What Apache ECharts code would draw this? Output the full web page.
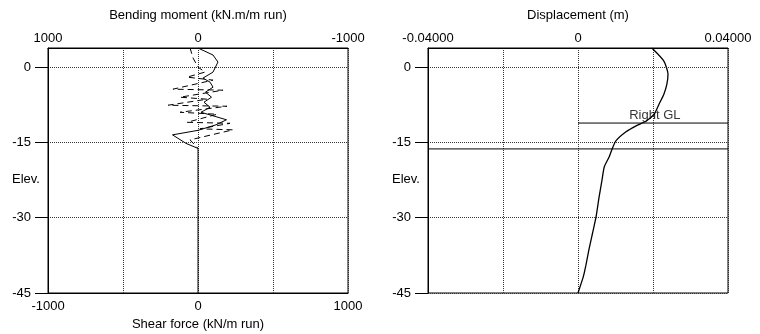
<!DOCTYPE html>
<html><head><meta charset="utf-8">
<script src="https://cdn.jsdelivr.net/npm/echarts@6/dist/echarts.min.js"></script>
<style>html,body{margin:0;padding:0;background:#fff}#c{width:760px;height:334px}</style>
</head><body><div id="c"></div>
<script>
// Elevation ticks
const elevTicks = [0, -15, -30, -45];
// Bending moment (kN.m/m run) vs elevation (solid)
const bmElev = [3.8, 2.4, 1.0, -1.0, -2.2, -3.0, -4.0, -5.0, -6.0, -7.0, -8.0, -9.0, -10.5, -11.5, -12.6, -13.5, -15.2, -16.2, -45];
const bmVal  = [0, -100, -133, -100, -33, -80, -100, -50, -90, -40, -80, -20, -190, -120, 0, 170, 80, 0, 0];
// Shear force (kN/m run) vs elevation (dashed)
const sfElev = [3.8, 1.8, 0, -1.0, -2.0, -2.6, -4.4, -4.6, -6.0, -6.4, -7.6, -7.8, -9.0, -9.4, -11.0, -11.2, -12.3, -12.5, -14.5, -16.2];
const sfVal  = [-53, -33, 0, 47, -73, 100, -167, 167, -120, 60, -200, 193, -120, 127, -73, 213, 13, 233, -53, 0];
// Displacement (m) vs elevation
const dispElev = [3.8, 1.2, -1.4, -3.4, -5.4, -7.4, -9.4, -10.8, -11.7, -12.9, -14.7, -16.3, -17.9, -19.9, -22.5, -26.0, -29.9, -33.0, -36.4, -39.5, -41.8, -45];
const dispVal  = [0.0197, 0.0229, 0.0240, 0.0237, 0.0229, 0.0216, 0.0203, 0.0181, 0.0155, 0.0128, 0.0101, 0.0091, 0.0083, 0.0070, 0.0064, 0.0056, 0.0048, 0.0039, 0.0029, 0.0021, 0.0014, 0];
// Ground level lines
const rightGL = -11.15;
const rightGLLabelX = 0.0205;
const toeLevel = -16.3;

const FONT = 'Liberation Sans';
const fs = 13;
const chart = echarts.init(document.getElementById('c'), null, {renderer: 'canvas'});
const zip = (xs, ys) => xs.map((x, i) => [x, ys[i]]);

function yAxisFor(gi) {
  return {
    type: 'value', gridIndex: gi, min: -45, max: 3.8, interval: 15,
    axisLine: {show: true, onZero: false, lineStyle: {color: '#000', width: 1}},
    axisTick: {show: true, length: 13, customValues: elevTicks, lineStyle: {color: '#000'}},
    axisLabel: {customValues: elevTicks, margin: 17, color: '#000', fontFamily: FONT, fontSize: fs},
    splitLine: {show: true, lineStyle: {color: '#333', type: [1, 1], width: 1}}
  };
}
const hideMid = (v, txt) => (Math.abs(Math.abs(v) - 500) < 1e-6 ? '' : txt);

chart.setOption({
  animation: false,
  textStyle: {fontFamily: FONT},
  grid: [
    {left: 48, top: 48, width: 300, height: 245, outerBoundsMode: 'none', containLabel: false, show: true, borderColor: '#000', borderWidth: 1, backgroundColor: 'transparent'},
    {left: 428, top: 48, width: 300, height: 245, outerBoundsMode: 'none', containLabel: false, show: true, borderColor: '#000', borderWidth: 1, backgroundColor: 'transparent'}
  ],
  xAxis: [
    {type: 'value', gridIndex: 0, position: 'top', inverse: true, min: -1000, max: 1000, interval: 500,
     name: 'Bending moment (kN.m/m run)', nameLocation: 'middle', nameGap: 26,
     nameTextStyle: {color: '#000', fontFamily: FONT, fontSize: fs},
     axisLine: {show: true, onZero: false, lineStyle: {color: '#000'}}, axisTick: {show: false},
     axisLabel: {margin: 3, color: '#000', fontFamily: FONT, fontSize: fs, formatter: v => hideMid(v, String(v))},
     splitLine: {show: true, lineStyle: {color: '#333', type: [1, 1]}}},
    {type: 'value', gridIndex: 0, position: 'bottom', min: -1000, max: 1000, interval: 500,
     name: 'Shear force (kN/m run)', nameLocation: 'middle', nameGap: 24,
     nameTextStyle: {color: '#000', fontFamily: FONT, fontSize: fs},
     axisLine: {show: true, onZero: false, lineStyle: {color: '#000'}}, axisTick: {show: false},
     axisLabel: {margin: 7, color: '#000', fontFamily: FONT, fontSize: fs, formatter: v => hideMid(v, String(v))},
     splitLine: {show: false}},
    {type: 'value', gridIndex: 1, position: 'top', min: -0.04, max: 0.04, interval: 0.02,
     name: 'Displacement (m)', nameLocation: 'middle', nameGap: 26,
     nameTextStyle: {color: '#000', fontFamily: FONT, fontSize: fs},
     axisLine: {show: true, onZero: false, lineStyle: {color: '#000'}}, axisTick: {show: false},
     axisLabel: {margin: 3, color: '#000', fontFamily: FONT, fontSize: fs,
       formatter: v => (Math.abs(v) < 1e-9 ? '0' : (Math.abs(Math.abs(v) - 0.02) < 1e-9 ? '' : v.toFixed(5)))},
     splitLine: {show: true, lineStyle: {color: '#333', type: [1, 1]}}}
  ],
  yAxis: [yAxisFor(0), yAxisFor(1)],
  graphic: [
    {type: 'text', left: 12, top: 173, style: {text: 'Elev.', fill: '#000', font: fs + 'px ' + FONT}},
    {type: 'text', left: 392, top: 173, style: {text: 'Elev.', fill: '#000', font: fs + 'px ' + FONT}}
  ],
  series: [
    {type: 'line', xAxisIndex: 0, yAxisIndex: 0, data: zip(bmVal, bmElev), symbol: 'none',
     lineStyle: {color: '#000', width: 1}, z: 3},
    {type: 'line', xAxisIndex: 1, yAxisIndex: 0, data: zip(sfVal, sfElev), symbol: 'none',
     lineStyle: {color: '#000', width: 1, type: [6, 4]}, z: 3},
    {type: 'line', xAxisIndex: 2, yAxisIndex: 1, data: zip(dispVal, dispElev), symbol: 'none', smooth: 0.2,
     lineStyle: {color: '#000', width: 1.3}, z: 3},
    {type: 'line', xAxisIndex: 2, yAxisIndex: 1, data: [[0, rightGL], [0.04, rightGL]], symbol: 'none',
     lineStyle: {color: '#000', width: 1}, z: 3},
    {type: 'line', xAxisIndex: 2, yAxisIndex: 1, data: [[-0.04, toeLevel], [0.04, toeLevel]], symbol: 'none',
     lineStyle: {color: '#000', width: 1}, z: 3},
    {type: 'scatter', xAxisIndex: 2, yAxisIndex: 1, data: [[rightGLLabelX, rightGL]], symbolSize: 0,
     label: {show: true, position: 'top', distance: 1, formatter: 'Right GL', color: '#000', fontFamily: FONT, fontSize: fs}, z: 4}
  ]
});
</script></body></html>
